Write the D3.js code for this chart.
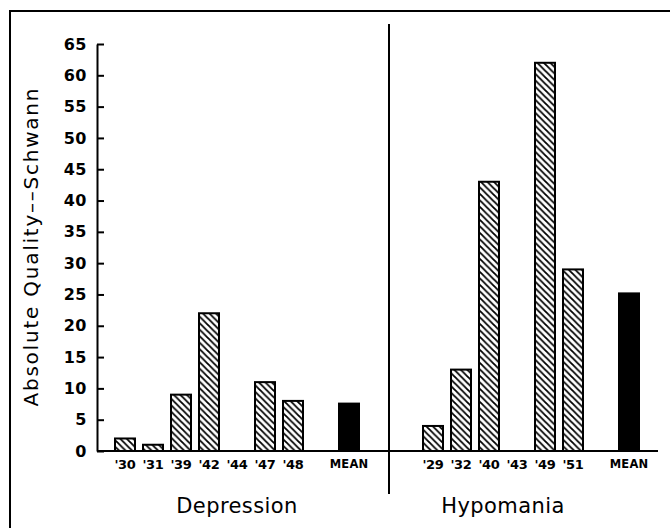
<!DOCTYPE html>
<html>
<head>
<meta charset="utf-8">
<script src="https://cdn.jsdelivr.net/npm/d3@7"></script>
<style>
  body { margin: 0; background: #fff; }
  svg { display: block; }
</style>
</head>
<body>
<div id="chart"></div>
<script>
// data
const depYears = ["'30", "'31", "'39", "'42", "'44", "'47", "'48"];
const depValues = [2, 1, 9, 22, 0, 11, 8];
const depMean = 7.57;
const hypoYears = ["'29", "'32", "'40", "'43", "'49", "'51"];
const hypoValues = [4, 13, 43, 0, 62, 29];
const hypoMean = 25.17;
const yTicks = [0, 5, 10, 15, 20, 25, 30, 35, 40, 45, 50, 55, 60, 65];

const W = 670, H = 528;

// build slot list (with empty gap slots between groups)
let slots = [];
depYears.forEach((d, i) => slots.push({ key: "d" + i, label: d, value: depValues[i], mean: false }));
slots.push({ key: "gapA", label: "", gap: true });
slots.push({ key: "dMean", label: "MEAN", value: depMean, mean: true });
slots.push({ key: "gapB", label: "", gap: true });
slots.push({ key: "gapC", label: "", gap: true });
hypoYears.forEach((d, i) => slots.push({ key: "h" + i, label: d, value: hypoValues[i], mean: false }));
slots.push({ key: "gapD", label: "", gap: true });
slots.push({ key: "hMean", label: "MEAN", value: hypoMean, mean: true });

let svg = d3.select("#chart")
    .append("svg")
    .attr("width", W)
    .attr("height", H);

// hatch pattern
svg.append("defs").append("pattern")
    .attr("id", "hatch")
    .attr("patternUnits", "userSpaceOnUse")
    .attr("width", 6.5)
    .attr("height", 6.5)
    .append("path")
    .attr("d", "M-1,-1L7.5,7.5M-1,5.5L1,7.5M5.5,-1L7.5,1")
    .attr("stroke", "#000")
    .attr("stroke-width", 1.8);

// frame (top and left only)
svg.append("path")
    .attr("d", "M10,528V11H670")
    .attr("fill", "none")
    .attr("stroke", "#000")
    .attr("stroke-width", 2);

let x = d3.scaleBand()
    .domain(slots.map(d => d.key))
    .range([111, 643])
    .paddingInner(8 / 28)
    .paddingOuter(4 / 28);

let y = d3.scaleLinear()
    .domain([0, 65])
    .range([451, 44]);

// Y axis
let yAxis = svg.append("g")
    .attr("transform", "translate(97,0)")
    .call(d3.axisLeft(y).tickValues(yTicks).tickSizeInner(-7).tickSizeOuter(0).tickPadding(10));
yAxis.select(".domain").attr("stroke-width", 2);
yAxis.selectAll(".tick line").attr("stroke-width", 2);
yAxis.selectAll("text")
    .attr("font-family", "DejaVu Sans")
    .attr("font-weight", "bold")
    .attr("font-size", 16)
    .attr("letter-spacing", 0.5)
    .attr("fill", "#000");

// X axis line
svg.append("line")
    .attr("x1", 97)
    .attr("x2", x.range()[1] + 15)
    .attr("y1", y(0))
    .attr("y2", y(0))
    .attr("stroke", "#000")
    .attr("stroke-width", 2);

// x tick labels
let labelSlots = slots.filter(d => !d.gap);
let xAxis = svg.append("g")
    .attr("transform", "translate(0," + y(0) + ")")
    .call(d3.axisBottom(x)
        .tickValues(labelSlots.map(d => d.key))
        .tickSize(0)
        .tickPadding(9)
        .tickFormat(k => slots.find(s => s.key === k).label));
xAxis.select(".domain").remove();
xAxis.selectAll("text")
    .attr("font-family", "DejaVu Sans")
    .attr("font-weight", "bold")
    .attr("fill", "#000")
    .attr("font-size", k => k.indexOf("Mean") >= 0 ? 11.5 : 13)
    .attr("letter-spacing", k => k.indexOf("Mean") >= 0 ? 0.2 : -0.3);

// bars
svg.append("g")
    .selectAll("rect")
    .data(slots.filter(d => !d.gap && d.value > 0))
    .join("rect")
    .attr("x", d => x(d.key))
    .attr("width", x.bandwidth())
    .attr("y", d => y(d.value))
    .attr("height", d => y(0) - y(d.value))
    .attr("fill", d => d.mean ? "#000" : "url(#hatch)")
    .attr("stroke", "#000")
    .attr("stroke-width", 2);

// divider between groups
let divX = (x("gapB") + x("gapC") + x.bandwidth()) / 2 - 2;
svg.append("line")
    .attr("x1", divX)
    .attr("x2", divX)
    .attr("y1", 24)
    .attr("y2", 494)
    .attr("stroke", "#000")
    .attr("stroke-width", 2);

// group titles
let depCenter = (x("d0") + x("dMean") + x.bandwidth()) / 2;
let hypoCenter = (x("h0") + x("h5") + x.bandwidth()) / 2;
svg.append("text")
    .attr("x", depCenter)
    .attr("y", 513)
    .attr("text-anchor", "middle")
    .attr("font-family", "DejaVu Sans")
    .attr("font-size", 21)
    .attr("letter-spacing", 0.4)
    .text("Depression");
svg.append("text")
    .attr("x", hypoCenter)
    .attr("y", 513)
    .attr("text-anchor", "middle")
    .attr("font-family", "DejaVu Sans")
    .attr("font-size", 21)
    .attr("letter-spacing", 0.4)
    .text("Hypomania");

// y axis title
svg.append("text")
    .attr("transform", "translate(38," + ((y(0) + y(65)) / 2) + ") rotate(-90)")
    .attr("text-anchor", "middle")
    .attr("font-family", "DejaVu Sans")
    .attr("font-size", 20)
    .attr("textLength", 318)
    .attr("lengthAdjust", "spacing")
    .text("Absolute Quality\u2013\u2013Schwann");
</script>
</body>
</html>
